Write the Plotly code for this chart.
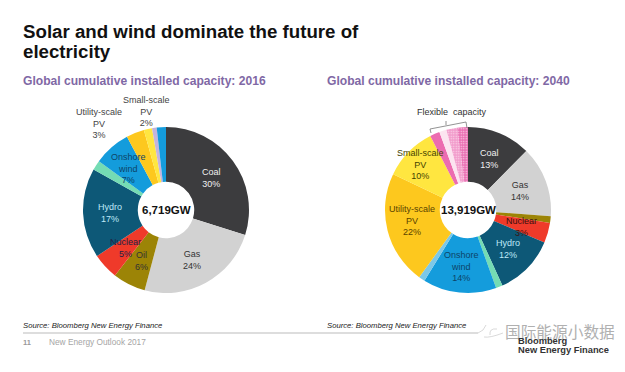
import plotly.graph_objects as go

W, H = 625, 372
labels_2016 = ["Coal", "Gas", "Oil", "Nuclear", "Hydro", "Offshore wind", "Onshore wind",
               "Utility-scale PV", "Small-scale PV", "Biomass", "Other"]
values_2016 = [29.9, 24.3, 6.4, 5.1, 17.5, 1.9, 7.2, 3.5, 1.6, 0.9, 1.8]
colors_2016 = ["#3c3c3e", "#d2d2d2", "#9c8406", "#ef3a2a", "#0d5877", "#74dcb4", "#149cdc",
               "#fdc81e", "#ffe640", "#c4b4dc", "#149cdc"]

labels_2040 = ["Coal", "Gas", "Oil", "Nuclear", "Hydro", "Offshore wind", "Onshore wind", "Other",
               "Utility-scale PV", "Small-scale PV", "Flexible A", "Flexible B", "Flexible C", "Flexible D"]
values_2040 = [12.4, 13.8, 1.3, 3.9, 11.8, 1.3, 14.3, 1.2, 22.1, 10.4, 1.9, 1.4, 2.1, 2.1]
colors_2040 = ["#3c3c3e", "#d2d2d2", "#9c8406", "#ef3a2a", "#0d5877", "#74dcb4", "#149cdc", "#7cc8e8",
               "#fdc81e", "#ffe640", "#ec6cb0", "#fce4f0", "#f29ccc", "#ea70b4"]
shapes_2040 = ["", "", "", "", "", "", "", "", "", "", "", "", ".", "."]

FONT = "Liberation Sans"

def dom(cx, cy, r):
    return dict(x=[(cx - r) / W, (cx + r) / W], y=[1 - (cy + r) / H, 1 - (cy - r) / H])

fig = go.Figure()
fig.add_trace(go.Pie(labels=labels_2016, values=values_2016, sort=False, direction="clockwise",
                     rotation=0, hole=0.34, textinfo="none", hoverinfo="label+percent",
                     marker=dict(colors=colors_2016, line=dict(width=0)),
                     domain=dom(166, 210, 83), showlegend=False))
fig.add_trace(go.Pie(labels=labels_2040, values=values_2040, sort=False, direction="clockwise",
                     rotation=0, hole=0.34, textinfo="none", hoverinfo="label+percent",
                     marker=dict(colors=colors_2040, line=dict(width=0),
                                 pattern=dict(shape=shapes_2040, bgcolor=colors_2040,
                                              fgcolor="#fbd8ea", size=2.5, solidity=0.25,
                                              fillmode="replace")),
                     domain=dom(468, 210, 83), showlegend=False))

def text(x, y, s, size=9, color="#3a3a3a", bold=False, italic=False, anchor="center", family=FONT):
    if bold:
        s = "<b>" + s + "</b>"
    if italic:
        s = "<i>" + s + "</i>"
    if anchor == "left":
        x -= 2
    fig.add_annotation(x=x / W, y=1 - y / H, xref="paper", yref="paper", text=s, showarrow=False,
                       xanchor=anchor, yanchor="middle", align="center" if anchor == "center" else "left",
                       font=dict(family=family, size=size, color=color))

text(23, 31, "Solar and wind dominate the future of", 18.7, "#111111", True, anchor="left")
text(23, 52, "electricity", 18.7, "#111111", True, anchor="left")
text(23, 81, "Global cumulative installed capacity: 2016", 12.1, "#7f68a5", True, anchor="left")
text(327, 81, "Global cumulative installed capacity: 2040", 12.1, "#7f68a5", True, anchor="left")

text(166, 210, "6,719GW", 11.5, "#111111", True)
text(468, 210, "13,919GW", 11.5, "#111111", True)

# 2016 labels
for x, y, s, c in [
    (211, 178, "Coal<br>30%", "#f0f0f0"),
    (192, 260, "Gas<br>24%", "#333333"),
    (141, 261, "Oil<br>6%", "#333333"),
    (125, 248, "Nuclear<br>5%", "#222244"),
    (110, 213, "Hydro<br>17%", "#bfe8f8"),
    (128, 168, "Onshore<br>wind<br>7%", "#0d4468"),
    (99, 124, "Utility-scale<br>PV<br>3%", "#444444"),
    (146, 112, "Small-scale<br>PV<br>2%", "#444444"),
]:
    text(x, y, s, 9, c)

# 2040 labels
for x, y, s, c in [
    (489, 159, "Coal<br>13%", "#f0f0f0"),
    (520, 191, "Gas<br>14%", "#333333"),
    (521, 227, "Nuclear<br>3%", "#3a1010"),
    (508, 249, "Hydro<br>12%", "#bfe8f8"),
    (461, 266, "Onshore<br>wind<br>14%", "#0d4468"),
    (412, 220, "Utility-scale<br>PV<br>22%", "#5a4300"),
    (420, 164, "Small-scale<br>PV<br>10%", "#444400"),
]:
    text(x, y, s, 9, c)
text(452, 112, "Flexible  capacity", 9, "#333333")

# Flexible capacity bracket
fig.add_shape(type="path", xref="paper", yref="paper",
              path=f"M {431/W} {1-133/H} L {430/W} {1-129/H} L {466/W} {1-122/H} L {467/W} {1-128/H}",
              line=dict(color="#777777", width=0.8))
fig.add_shape(type="line", xref="paper", yref="paper", x0=446/W, x1=446/W, y0=1-125/H, y1=1-121/H,
              line=dict(color="#777777", width=0.8))

# Footer
text(23, 325.5, "Source: Bloomberg New Energy Finance", 7.7, "#222222", italic=True, anchor="left")
text(327, 325.5, "Source: Bloomberg New Energy Finance", 7.7, "#222222", italic=True, anchor="left")
fig.add_shape(type="line", xref="paper", yref="paper", x0=23/W, x1=478/W, y0=1-333/H, y1=1-333/H,
              line=dict(color="#bbbbbb", width=1))
text(23, 342, "11", 7.5, "#999999", True, anchor="left")
text(49, 342, "New Energy Outlook 2017", 8.3, "#a5a5a5", anchor="left")
# Watermark icon (WeChat-style outline)
fig.add_shape(type="path", xref="paper", yref="paper",
              path=(f"M {478/W} {1-333/H} Q {484/W} {1-331/H} {486/W} {1-325/H} "
                    f"M {490/W} {1-335/H} Q {489/W} {1-328/H} {497/W} {1-329/H} "
                    f"M {484/W} {1-337/H} Q {490/W} {1-338/H} {503/W} {1-333/H}"),
              line=dict(color="#cfcfcf", width=0.8))
text(505, 331, "国际能源小数据", 15.7, "#b0b0b0", anchor="left", family="Noto Sans CJK SC")
text(518, 341, "Bloomberg", 9.3, "#333333", True, anchor="left")
text(518, 349.5, "New Energy Finance", 9.3, "#333333", True, anchor="left")

fig.update_layout(width=W, height=H, margin=dict(l=0, r=0, t=0, b=0), paper_bgcolor="white",
                  plot_bgcolor="white", showlegend=False)
fig.write_html("out.html", post_script="document.body.style.margin='0';",
               config={"displayModeBar": False})
